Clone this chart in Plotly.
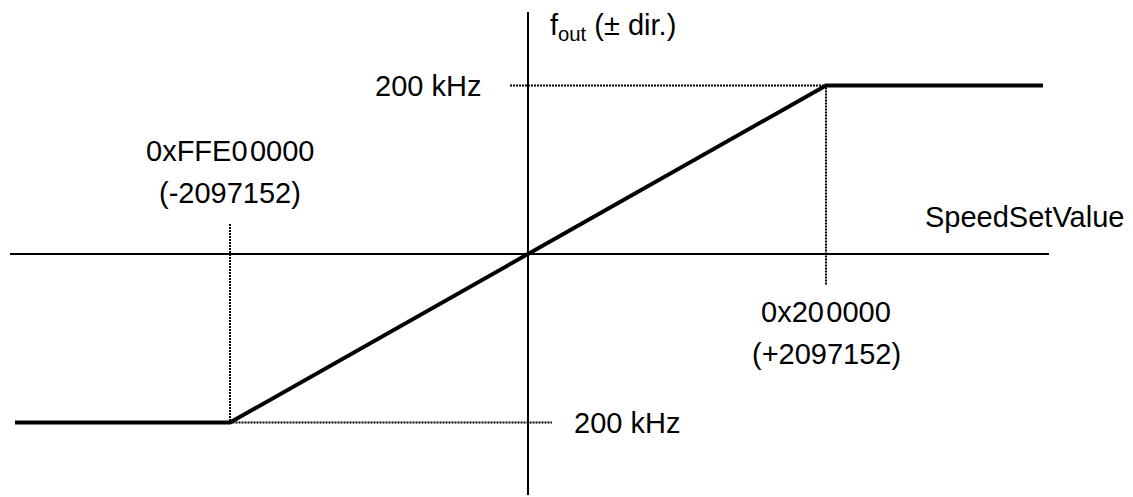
import plotly.graph_objects as go

# ---------------- data ----------------
SPEED_LIMIT = 2097152          # 0x20 0000 counts
F_MAX_KHZ = 200                # output frequency limit, kHz
curve_x = [-3610000, -SPEED_LIMIT, SPEED_LIMIT, 3624000]
curve_y = [-F_MAX_KHZ, -F_MAX_KHZ, F_MAX_KHZ, F_MAX_KHZ]

# dotted guide lines (data units)
guide_top_x = [-126700, SPEED_LIMIT, SPEED_LIMIT]
guide_top_y = [F_MAX_KHZ, F_MAX_KHZ, -36.8]
guide_bot_x = [-SPEED_LIMIT, -SPEED_LIMIT, 168900]
guide_bot_y = [35.6, -F_MAX_KHZ, -F_MAX_KHZ]

label_neg_hex = "0xFFE0\u200a0000"
label_neg_dec = "(-2097152)"
label_pos_hex = "0x20\u200a0000"
label_pos_dec = "(+2097152)"
label_freq = "200 kHz"
label_x_axis = "SpeedSetValue"
label_y_axis = "f<sub>out</sub> (± dir.)"

# ---------------- geometry helpers (pixel -> data) ----------------
W, H = 1133, 497
PL, PR, PT, PB = 10, 1049, 12, 495   # plot area in pixels
ZX, ZY = 528, 254                    # pixel position of origin
SX = SPEED_LIMIT / 298.0
SY = F_MAX_KHZ / 168.5


def px2x(p):
    return (p - ZX) * SX


def px2y(p):
    return (ZY - p) * SY


FONT = dict(family="Liberation Sans, Arial, sans-serif", size=29, color="black")

fig = go.Figure()
dot = dict(color="black", width=2, dash="2px,1px")
fig.add_trace(go.Scatter(x=guide_top_x, y=guide_top_y, mode="lines", line=dot,
                         hoverinfo="skip", showlegend=False))
fig.add_trace(go.Scatter(x=guide_bot_x, y=guide_bot_y, mode="lines", line=dot,
                         hoverinfo="skip", showlegend=False))
fig.add_trace(go.Scatter(x=curve_x, y=curve_y, mode="lines",
                         line=dict(color="black", width=4),
                         hoverinfo="skip", showlegend=False))

ann = [
    dict(x=px2x(548), y=px2y(27), text=label_y_axis, xanchor="left", yanchor="middle"),
    dict(x=px2x(483), y=F_MAX_KHZ, text=label_freq, xanchor="right", yanchor="middle"),
    dict(x=-SPEED_LIMIT, y=px2y(151), text=label_neg_hex, xanchor="center", yanchor="middle"),
    dict(x=-SPEED_LIMIT, y=px2y(193), text=label_neg_dec, xanchor="center", yanchor="middle"),
    dict(x=px2x(923), y=px2y(217), text=label_x_axis, xanchor="left", yanchor="middle"),
    dict(x=SPEED_LIMIT, y=px2y(312), text=label_pos_hex, xanchor="center", yanchor="middle"),
    dict(x=SPEED_LIMIT, y=px2y(354), text=label_pos_dec, xanchor="center", yanchor="middle"),
    dict(x=px2x(572), y=-F_MAX_KHZ, text=label_freq, xanchor="left", yanchor="middle"),
]
for a in ann:
    a.update(showarrow=False, font=FONT, xref="x", yref="y")

fig.update_layout(
    width=W, height=H,
    margin=dict(l=PL, r=W - PR, t=PT, b=H - PB, pad=0),
    paper_bgcolor="white", plot_bgcolor="white",
    annotations=ann,
    xaxis=dict(range=[px2x(PL), px2x(PR)], showgrid=False, zeroline=True,
               zerolinecolor="black", zerolinewidth=2, showticklabels=False,
               ticks="", showline=False, fixedrange=True),
    yaxis=dict(range=[px2y(PB), px2y(PT)], showgrid=False, zeroline=True,
               zerolinecolor="black", zerolinewidth=2, showticklabels=False,
               ticks="", showline=False, fixedrange=True),
    showlegend=False,
)

fig.write_html("out.html", config={"displayModeBar": False},
               post_script="document.body.style.margin='0px';"
                           "document.body.style.overflow='hidden';")
